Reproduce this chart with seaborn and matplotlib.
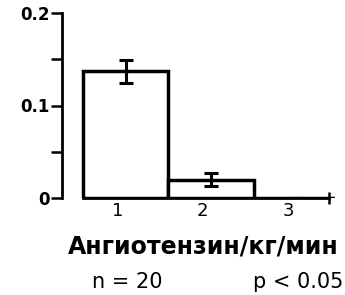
import pandas as pd
import seaborn as sns
import matplotlib.pyplot as plt

# values
doses = ["1", "2", "3"]
means = [0.137, 0.020, 0.0]
errors = [0.0125, 0.0075, 0.0]

y_ticks = [0, 0.1, 0.2]
y_labels = ["0", "0.1", "0.2"]
y_minor = [0.05, 0.15]

x_label = "Ангиотензин/кг/мин"
n_label = "n = 20"
p_label = "p < 0.05"

sns.set_theme(style="white")
plt.rcParams['font.family'] = ['DejaVu Sans']
plt.rcParams['text.color'] = 'black'

df = pd.DataFrame({"dose": doses, "value": means})

fig = plt.figure(figsize=(3.45, 2.95), dpi=100)
ax = fig.add_axes([62 / 345, 1 - 198 / 295, (335 - 62) / 345, (198 - 13) / 295])

sns.barplot(data=df, x="dose", y="value", color="white", edgecolor="black",
            linewidth=2.5, width=1.0, errorbar=None, saturation=1, ax=ax)
ax.errorbar(range(len(doses)), means, yerr=errors, fmt="none", ecolor="black",
            elinewidth=2.2, capsize=5, capthick=2.2)

ax.set_xlim(-0.747, 2.45)
ax.set_ylim(0, 0.2)
ax.set_xlabel("")
ax.set_ylabel("")

# y axis: detached spine with outward ticks
ax.set_yticks(y_ticks)
ax.set_yticklabels(y_labels)
ax.set_yticks(y_minor, minor=True)
ax.tick_params(axis="y", which="both", direction="out", length=8, width=1.8,
               left=True, color="black", pad=1, labelsize=12, labelcolor="black")
for lbl in ax.get_yticklabels():
    lbl.set_fontweight("bold")
ax.spines["left"].set_linewidth(2)

# x axis: starts at the first bar, ends with a small tick
ax.spines["bottom"].set_bounds(-0.5, 2.38)
ax.spines["bottom"].set_linewidth(2)
ax.set_xticks([i - 0.1 for i in range(len(doses))])
ax.set_xticklabels(doses)
ax.set_xticks([2.38], minor=True)
ax.tick_params(axis="x", which="major", length=0, pad=3, labelsize=13,
               labelcolor="black")
ax.tick_params(axis="x", which="minor", direction="inout", length=9, width=1.8,
               bottom=True, color="black")
for side in ["top", "right"]:
    ax.spines[side].set_visible(False)
for sp in ax.spines.values():
    sp.set_color("black")

fig.text(68 / 345, 1 - 246 / 295, x_label, fontsize=17, fontweight="bold",
         va="center", ha="left")
fig.text(92 / 345, 1 - 282 / 295, n_label, fontsize=15, va="center", ha="left")
fig.text(343 / 345, 1 - 282 / 295, p_label, fontsize=15, va="center", ha="right")

fig.savefig("out.png", dpi=100)
